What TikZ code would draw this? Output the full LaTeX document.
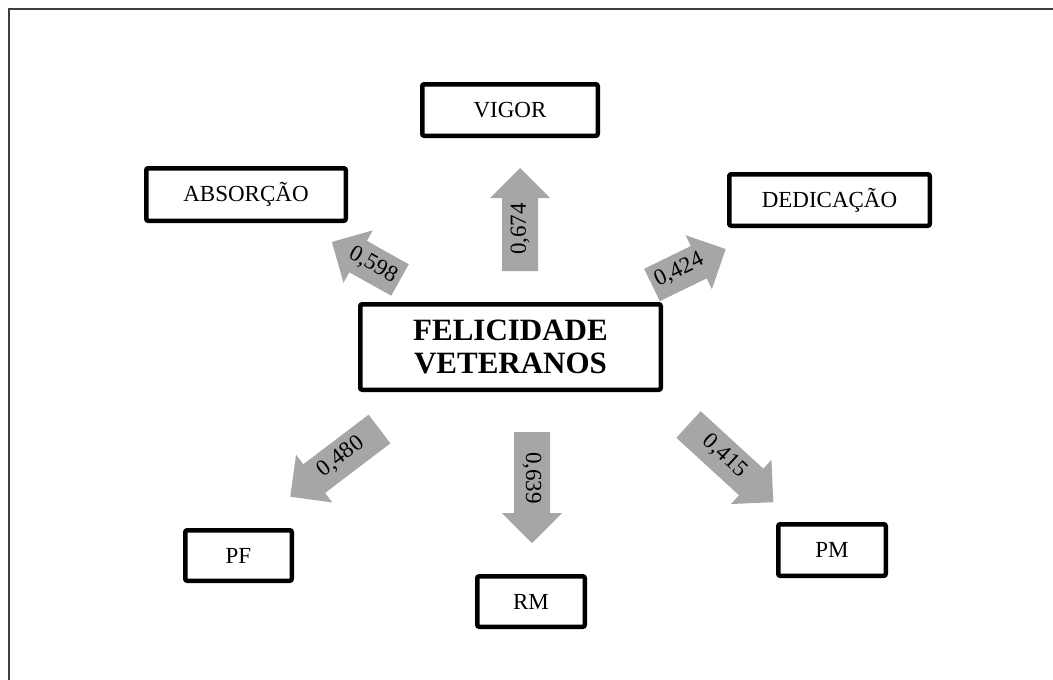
\documentclass[tikz,border=0pt]{standalone}
\usepackage{fontspec}
\setmainfont{Liberation Serif}
\definecolor{arrowgray}{RGB}{166,166,166}
\definecolor{framegray}{RGB}{64,64,64}
\newcommand{\blockarr}[4]{% name, tail, angle, length
  \begin{scope}[shift={#2}, rotate=#3]
    \coordinate (#1-s) at (0,0);
    \coordinate (#1-e) at (#4,0);
    \fill[arrowgray] (0,-18) -- ({#4-30},-18) -- ({#4-30},-30) -- (#4,0)
      -- ({#4-30},30) -- ({#4-30},18) -- (0,18) -- cycle;
  \end{scope}}
\begin{document}
\begin{tikzpicture}[x=1pt,y=1pt,
  box/.style={draw=black, line width=4.5pt, rounded corners=2pt, fill=white,
    inner sep=0pt, font=\fontsize{23}{27}\selectfont},
  lbl/.style={inner sep=0pt, font=\fontsize{23}{27}\selectfont}]
\useasboundingbox (0,0) rectangle (1053,-680);
\draw[framegray, line width=1.5pt] (9,-681) -- (9,-9) -- (1053,-9);

% boxes
\node[box, minimum width=175.5pt, minimum height=51.5pt] (vigor) at (510,-110) {VIGOR};
\node[box, minimum width=199.5pt, minimum height=52.5pt] (abs) at (246,-194.5) {ABSORÇÃO};
\node[box, minimum width=200.5pt, minimum height=51.5pt] (ded) at (829.5,-200) {DEDICAÇÃO};
\node[box, minimum width=300.5pt, minimum height=85.5pt, align=center,
  font=\fontsize{31}{33.3}\selectfont\bfseries] (fel) at (510.5,-347) {FELICIDADE\\VETERANOS};
\node[box, minimum width=106.5pt, minimum height=50.5pt] (pf) at (238.5,-555.5) {PF};
\node[box, minimum width=107.5pt, minimum height=51.5pt] (pm) at (832,-550) {PM};
\node[box, minimum width=107.5pt, minimum height=50.5pt] (rm) at (531,-601.5) {RM};

% block arrows
\blockarr{aV}{(520,-271)}{90}{103}
\blockarr{aR}{(532,-432)}{-90}{111}
\blockarr{aA}{(400,-280)}{150.8}{78}
\blockarr{aD}{(652,-285)}{26}{82}
\blockarr{aF}{(379.5,-429)}{217.2}{112}
\blockarr{aM}{(688.5,-424.5)}{-42.5}{115}

% labels
\node[lbl, rotate=90] (lV) at (520,-229) {0,674};
\node[lbl, rotate=-90] (lR) at (532,-478) {0,639};
\node[lbl, rotate=-29.2] (lA) at (373,-265) {0,598};
\node[lbl, rotate=26] (lD) at (679,-270) {0,424};
\node[lbl, rotate=37.2] (lF) at (341,-457) {0,480};
\node[lbl, rotate=-42.5] (lM) at (725,-456) {0,415};
\end{tikzpicture}
\end{document}
